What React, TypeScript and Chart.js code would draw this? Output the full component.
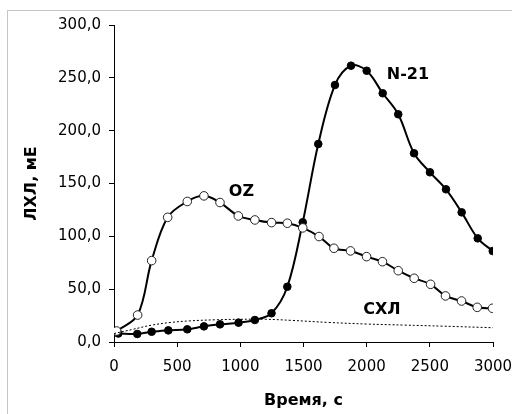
import React, { useEffect, useRef } from "react";
import { Chart, registerables } from "chart.js";

Chart.register(...registerables);

// N-21 (filled markers)
const n21Time = [34, 184, 298, 430, 580, 712, 839, 986, 1115, 1247, 1372, 1494, 1617, 1749, 1876, 2000, 2127, 2250, 2375, 2501, 2628, 2752, 2879, 2998];
const n21Values = [8.0, 7.6, 9.7, 11.0, 12.0, 14.8, 16.7, 18.3, 20.8, 27.2, 52.3, 113.3, 187.4, 243.2, 261.5, 256.7, 235.4, 215.5, 178.6, 160.6, 144.5, 122.7, 98.1, 86.1];

// OZ (open markers)
const ozTime = [21, 187, 298, 425, 580, 712, 839, 984, 1115, 1247, 1372, 1494, 1623, 1741, 1872, 1999, 2125, 2250, 2376, 2506, 2624, 2751, 2875, 2996];
const ozValues = [10.4, 25.5, 77.0, 118.0, 133.0, 138.3, 132.0, 119.3, 115.5, 113.0, 112.4, 108.0, 99.8, 88.7, 86.2, 80.8, 76.0, 67.5, 60.3, 54.6, 43.6, 38.8, 32.8, 31.9];

// СХЛ (dotted line)
const sxlTime = [0, 150, 300, 450, 600, 800, 1000, 1200, 1400, 1700, 2000, 2300, 2600, 3000];
const sxlValues = [8, 12, 16, 18.5, 20, 21, 21.5, 21.5, 20.5, 18.5, 17, 16, 15, 13.5];

// Series labels placed in data coordinates
const seriesLabels = ["N-21", "OZ", "СХЛ"];
const labelTime = [2327, 1009, 2121];
const labelValue = [252.7, 142, 30.3];

const xTitle = "Время, с";
const yTitle = "ЛХЛ, мЕ";

const toPts = (xs: number[], ys: number[]) => xs.map((x, i) => ({ x, y: ys[i] }));

const labelPlugin = {
  id: "seriesLabels",
  afterDatasetsDraw(chart: any) {
    const { ctx, scales } = chart;
    ctx.save();
    ctx.font = "bold 16px 'DejaVu Sans'";
    ctx.fillStyle = "#000";
    ctx.textAlign = "center";
    ctx.textBaseline = "middle";
    seriesLabels.forEach((t, i) => {
      ctx.fillText(t, scales.x.getPixelForValue(labelTime[i]), scales.y.getPixelForValue(labelValue[i]));
    });
    ctx.restore();
  },
};

export default function App() {
  const ref = useRef<HTMLCanvasElement>(null);
  useEffect(() => {
    if (!ref.current) return;
    const chart = new Chart(ref.current, {
      type: "line",
      data: {
        datasets: [
          {
            label: "СХЛ",
            data: toPts(sxlTime, sxlValues),
            borderColor: "#000",
            borderWidth: 1,
            borderDash: [2, 2],
            pointRadius: 0,
            tension: 0.4,
            fill: false,
          },
          {
            label: "OZ",
            data: toPts(ozTime, ozValues),
            borderColor: "#000",
            borderWidth: 2,
            pointRadius: 4.3,
            pointBackgroundColor: "#fff",
            pointBorderColor: "#222",
            pointBorderWidth: 1,
            tension: 0.35,
            fill: false,
          },
          {
            label: "N-21",
            data: toPts(n21Time, n21Values),
            borderColor: "#000",
            borderWidth: 2,
            pointRadius: 3.8,
            pointBackgroundColor: "#000",
            pointBorderColor: "#000",
            pointBorderWidth: 1,
            tension: 0.35,
            fill: false,
          },
        ],
      },
      options: {
        animation: false,
        responsive: false,
        maintainAspectRatio: false,
        layout: { padding: { top: 25, right: 19, bottom: 0, left: 0 } },
        plugins: { legend: { display: false }, tooltip: { enabled: false } },
        scales: {
          x: {
            type: "linear",
            min: 0,
            max: 3000,
            afterFit: (s: any) => {
              s.height = 72;
              s.paddingRight = 0;
              s.paddingLeft = 0;
            },
            ticks: {
              stepSize: 500,
              color: "#000",
              font: { family: "'DejaVu Sans'", size: 15 },
              padding: 11,
              maxRotation: 0,
              callback: (v: any) => String(v),
            },
            grid: { display: true, drawOnChartArea: false, drawTicks: true, tickLength: 5, color: "#000" },
            border: { display: true, color: "#000", width: 1 },
            title: {
              display: true,
              text: xTitle,
              color: "#000",
              font: { family: "'DejaVu Sans'", size: 16, weight: "bold" },
              padding: { top: 0, bottom: 4 },
            },
          },
          y: {
            type: "linear",
            min: 0,
            max: 300,
            afterFit: (s: any) => {
              s.width = 114;
              s.paddingTop = 0;
              s.paddingBottom = 0;
            },
            ticks: {
              stepSize: 50,
              color: "#000",
              font: { family: "'DejaVu Sans'", size: 15 },
              padding: 8,
              callback: (v: any) => Number(v).toFixed(1).replace(".", ","),
            },
            grid: { display: true, drawOnChartArea: false, drawTicks: true, tickLength: 5, color: "#000" },
            border: { display: true, color: "#000", width: 1 },
            title: {
              display: true,
              text: yTitle,
              color: "#000",
              font: { family: "'DejaVu Sans'", size: 16, weight: "bold" },
              padding: { top: 22, bottom: 0 },
            },
          },
        },
      },
      plugins: [labelPlugin],
    });
    return () => chart.destroy();
  }, []);

  return (
    <div style={{ position: "fixed", left: 0, top: 0, width: 512, height: 414, overflow: "hidden", background: "#fff" }}>
      <div
        style={{
          position: "absolute",
          left: 7,
          top: 10,
          width: 700,
          height: 700,
          border: "1px solid #c4c4c4",
          boxSizing: "border-box",
        }}
      />
      <canvas ref={ref} width={512} height={414} style={{ position: "absolute", left: 0, top: 0, width: 512, height: 414 }} />
    </div>
  );
}
